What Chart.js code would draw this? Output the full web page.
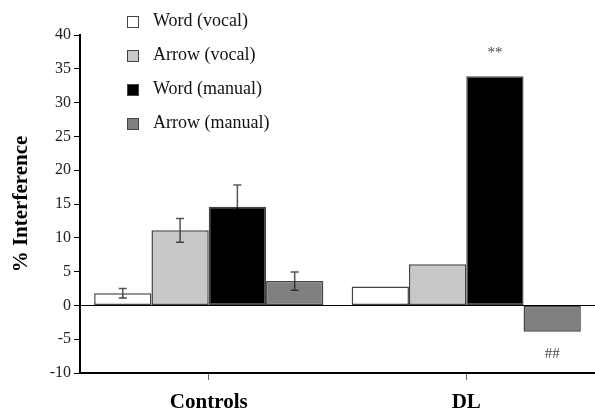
<!DOCTYPE html>
<html>
<head>
<meta charset="utf-8">
<script src="https://cdn.jsdelivr.net/npm/chart.js@4"></script>
<style>
  html, body { margin: 0; padding: 0; background: #fff; }
  #wrap { position: relative; width: 595px; height: 411px; }
  #legend { position: absolute; left: 127px; top: 10px; font-family: "Liberation Serif", serif; font-size: 18px; color: #111; }
  #legend .row { height: 34px; display: flex; align-items: flex-start; }
  #legend .box { width: 10px; height: 10px; border: 1px solid #444; margin-top: 6px; margin-right: 14px; }
</style>
</head>
<body>
<div id="wrap">
  <canvas id="chart" width="595" height="411"></canvas>
  <div id="legend"></div>
</div>
<script>
// data
var groups = ['Controls', 'DL'];
var seriesNames = ['Word (vocal)', 'Arrow (vocal)', 'Word (manual)', 'Arrow (manual)'];
var wordVocal = [1.8, 2.8];
var arrowVocal = [11.1, 6.1];
var wordManual = [14.6, 33.9];
var arrowManual = [3.6, -3.9];
// standard error (controls only)
var wordVocalErr = [0.7, null];
var arrowVocalErr = [1.75, null];
var wordManualErr = [3.2, null];
var arrowManualErr = [1.35, null];
// significance marks on the DL bars
var dlMarks = ['', '', '**', '##'];
var yTicks = [-10, -5, 0, 5, 10, 15, 20, 25, 30, 35, 40];

var fills = ['#ffffff', '#c8c8c8', '#000000', '#808080'];
var values = [wordVocal, arrowVocal, wordManual, arrowManual];
var errors = [wordVocalErr, arrowVocalErr, wordManualErr, arrowManualErr];
var errLowColor = ['#444', '#444', '#000', '#333'];

// HTML legend built from the series
var legend = document.getElementById('legend');
seriesNames.forEach(function (name, i) {
    var row = document.createElement('div');
    row.className = 'row';
    var box = document.createElement('div');
    box.className = 'box';
    box.style.background = fills[i];
    var txt = document.createElement('span');
    txt.textContent = name;
    row.appendChild(box);
    row.appendChild(txt);
    legend.appendChild(row);
});

// error bars + significance marks
var extras = {
    id: 'extras',
    afterDatasetsDraw: function (chart) {
        var ctx = chart.ctx;
        var y = chart.scales.y;
        ctx.save();
        chart.data.datasets.forEach(function (ds, di) {
            var meta = chart.getDatasetMeta(di);
            meta.data.forEach(function (bar, i) {
                var err = errors[di][i];
                if (err == null) return;
                var v = ds.data[i];
                var yTop = y.getPixelForValue(v + err);
                var yMid = y.getPixelForValue(v);
                var yBot = y.getPixelForValue(v - err);
                var cap = 4;
                ctx.lineWidth = 1.5;
                ctx.strokeStyle = '#555';
                ctx.beginPath();
                ctx.moveTo(bar.x, yMid); ctx.lineTo(bar.x, yTop);
                ctx.moveTo(bar.x - cap, yTop); ctx.lineTo(bar.x + cap, yTop);
                ctx.stroke();
                ctx.strokeStyle = errLowColor[di];
                ctx.beginPath();
                ctx.moveTo(bar.x, yMid); ctx.lineTo(bar.x, yBot);
                ctx.moveTo(bar.x - cap, yBot); ctx.lineTo(bar.x + cap, yBot);
                ctx.stroke();
            });
            var mark = dlMarks[di];
            if (mark) {
                var b = meta.data[1];
                var v = ds.data[1];
                ctx.fillStyle = '#444';
                ctx.font = '15px "Liberation Serif"';
                ctx.textAlign = 'center';
                ctx.textBaseline = 'middle';
                var py = v >= 0 ? y.getPixelForValue(v) - 23 : y.getPixelForValue(v) + 22;
                ctx.fillText(mark, b.x, py);
            }
        });
        ctx.restore();
    }
};

var ctx = document.getElementById('chart').getContext('2d');
new Chart(ctx, {
    type: 'bar',
    data: {
        labels: groups,
        datasets: seriesNames.map(function (name, i) {
            return {
                label: name,
                data: values[i],
                backgroundColor: fills[i],
                borderColor: '#444',
                borderWidth: 1.5,
                borderSkipped: false,
                categoryPercentage: 0.89,
                barPercentage: 1.0
            };
        })
    },
    plugins: [extras],
    options: {
        responsive: false,
        animation: false,
        layout: { padding: { top: 35, right: 0, bottom: 0, left: 0 } },
        plugins: {
            legend: { display: false },
            tooltip: { enabled: false }
        },
        scales: {
            x: {
                afterFit: function (s) { s.height = 38; },
                border: { color: '#000', width: 2 },
                grid: { offset: false, drawOnChartArea: false, tickLength: 7, color: '#666', lineWidth: 1 },
                ticks: {
                    padding: 10,
                    color: '#000',
                    font: { family: 'Liberation Serif', size: 21, weight: 'bold' }
                }
            },
            y: {
                min: -10,
                max: 40,
                afterFit: function (s) { s.width = 80; },
                afterBuildTicks: function (s) { s.ticks = yTicks.map(function (v) { return { value: v }; }); },
                border: { color: '#000', width: 2 },
                grid: {
                    drawOnChartArea: true,
                    tickLength: 6,
                    tickColor: '#000',
                    lineWidth: 1,
                    color: function (c) { return c.tick && c.tick.value === 0 ? '#000' : 'rgba(0,0,0,0)'; }
                },
                ticks: {
                    padding: 3,
                    color: '#222',
                    font: { family: 'Liberation Serif', size: 16 }
                },
                title: {
                    display: true,
                    text: '% Interference',
                    color: '#000',
                    padding: { top: 9, bottom: 0 },
                    font: { family: 'Liberation Serif', size: 21, weight: 'bold' }
                }
            }
        }
    }
});
</script>
</body>
</html>
